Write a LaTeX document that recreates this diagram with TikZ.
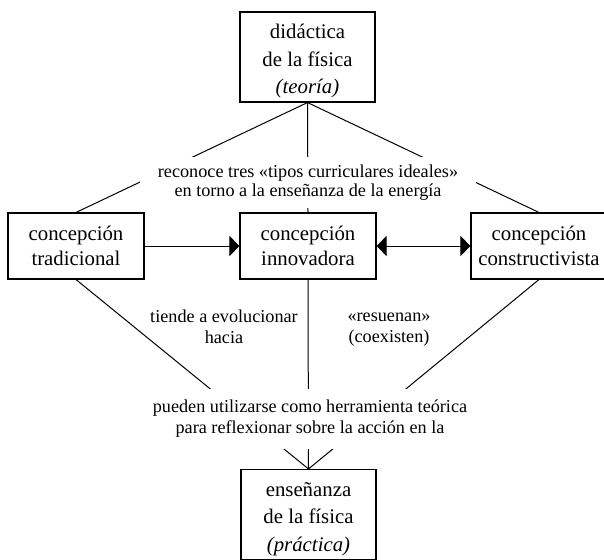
\documentclass[tikz,border=0pt]{standalone}
\usepackage{fontspec}
\setmainfont{Liberation Serif}
\usetikzlibrary{arrows.meta}

\tikzset{
  bigbox/.style={draw,line width=1.1pt,minimum width=135pt,minimum height=90pt,
    inner xsep=2pt,align=center,font=\fontsize{20.8pt}{27.5pt}\selectfont},
  ideabox/.style={draw,line width=1.1pt,minimum width=136pt,minimum height=66pt,
    inner xsep=2pt,align=center,font=\fontsize{20.8pt}{25.5pt}\selectfont},
  linklabel/.style={fill=white,inner xsep=18pt,inner ysep=8pt,align=center,
    font=\fontsize{18.2pt}{19pt}\selectfont},
  freelabel/.style={align=center,font=\fontsize{18.2pt}{21pt}\selectfont},
  headtip/.style={-{Triangle[length=10pt,width=20pt]}}
}

\begin{document}
\begin{tikzpicture}[x=1pt,y=-1pt,line width=1pt]
    \useasboundingbox (0,0) rectangle (604,559);
    % boxes
    \node[bigbox] (teoria) at (307.5,57) {\rule{0pt}{23pt}didáctica\\de la física\\\textit{(teoría)}};
    \node[ideabox] (trad) at (76,246) {concepción\\tradicional};
    \node[ideabox] (innov) at (308,246) {concepción\\innovadora};
    \node[ideabox] (constr) at (539,246) {concepción\\constructivista};
    \node[bigbox] (practica) at (308.5,514.5) {\rule{0pt}{23pt}enseñanza\\de la física\\\textit{(práctica)}};
    % connectors
    \foreach \c in {trad,innov,constr}{
        \draw (teoria.south) -- (\c.north);
        \draw (\c.south) -- (practica.north);
    }
    \draw[headtip] (trad.east) -- (innov.west);
    \draw[{Triangle[length=10pt,width=20pt]}-{Triangle[length=10pt,width=20pt]}] (innov.east) -- (constr.west);
    % labels
    \node[linklabel] (reconoce) at (308,182.5) {reconoce tres «tipos curriculares ideales»\\en torno a la enseñanza de la energía};
    \node[freelabel] (tiende) at (224,326.5) {tiende a evolucionar\\hacia};
    \node[freelabel] (resuenan) at (389,330) {«resuenan»\\(coexisten)};
    \node[linklabel,inner ysep=11pt,font=\fontsize{18.2pt}{21pt}\selectfont] (pueden) at (310,419) {pueden utilizarse como herramienta teórica\\para reflexionar sobre la acción en la};
\end{tikzpicture}
\end{document}
